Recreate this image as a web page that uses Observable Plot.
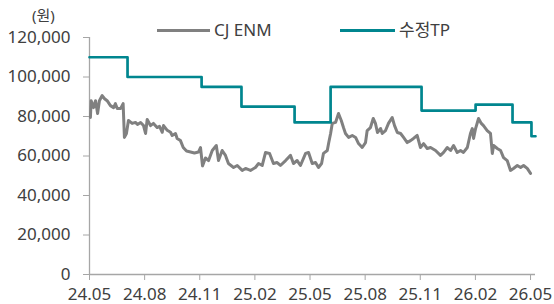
<!DOCTYPE html>
<html>
<head>
<meta charset="utf-8">
<script src="https://cdn.jsdelivr.net/npm/d3@7"></script>
<script src="https://cdn.jsdelivr.net/npm/@observablehq/plot@0.6"></script>
<style>
  html, body { margin: 0; padding: 0; background: #fff; }
  #wrap { position: relative; width: 554px; height: 304px; font-family: "Noto Sans", "Noto Sans CJK KR", sans-serif; color: #404040; }
  .lg { position: absolute; top: 17px; font-size: 17px; line-height: 26px; display: flex; align-items: center; }
  .lg i { display: inline-block; height: 3px; margin-right: 4px; }
  #unit { position: absolute; left: 32px; top: 8px; font-size: 15px; line-height: 15px; }
  svg { display: block; }
</style>
</head>
<body>
<div id="wrap">
  <div id="unit">(원)</div>
  <div class="lg" style="left:157px"><i style="width:53px;background:#808080"></i>CJ ENM</div>
  <div class="lg" style="left:340px"><i style="width:55px;background:#00868f"></i>수정TP</div>
</div>
<script>
// x = months since 2024.05
const tickMonths = [0, 3, 6, 9, 12, 15, 18, 21, 24];
const tickLabels = ["24.05", "24.08", "24.11", "25.02", "25.05", "25.08", "25.11", "26.02", "26.05"];
const yTicks = [0, 20000, 40000, 60000, 80000, 100000, 120000];

// CJ ENM share price (원)
const priceMonths = [0.05,0.09,0.22,0.33,0.44,0.54,0.69,0.82,0.96,1.14,1.31,1.41,1.51,1.69,1.83,1.90,2.01,2.12,2.32,2.50,2.61,2.78,2.94,3.05,3.14,3.32,3.48,3.68,3.81,3.96,4.03,4.23,4.41,4.50,4.68,4.77,4.95,5.10,5.28,5.50,5.71,5.93,6.04,6.15,6.31,6.48,6.68,6.90,7.02,7.22,7.40,7.56,7.84,8.04,8.31,8.49,8.76,9.03,9.20,9.40,9.58,9.80,10.01,10.21,10.39,10.67,10.94,11.10,11.30,11.48,11.76,11.92,12.12,12.30,12.46,12.63,12.73,12.94,13.01,13.12,13.21,13.39,13.55,13.70,13.82,13.93,14.10,14.30,14.48,14.64,14.84,15.02,15.11,15.29,15.44,15.56,15.67,15.84,15.93,16.11,16.27,16.47,16.60,16.75,16.93,17.09,17.29,17.47,17.63,17.83,18.01,18.18,18.38,18.56,18.83,19.10,19.27,19.47,19.65,19.81,20.01,20.19,20.35,20.56,20.73,20.83,20.90,21.01,21.17,21.32,21.44,21.64,21.82,21.92,21.99,22.19,22.37,22.53,22.73,22.91,23.07,23.28,23.46,23.62,23.82,24.00];
const priceValues = [79500,88000,84500,88000,81500,88000,90600,89000,88000,85500,84500,86500,84000,84000,86500,69400,71400,78000,76500,77000,76000,77000,75400,71400,78500,75400,76500,74400,75000,72000,75400,73000,72000,70400,71400,68900,67800,64300,62500,62000,61500,62000,64300,55000,59000,57700,62800,65300,57700,62800,60300,56200,54200,55200,52700,53700,52700,54200,56200,55200,61800,61300,56200,56700,55200,57700,60300,56200,57700,55200,61300,61800,56200,56700,54200,56200,61300,62800,66300,71400,76500,77000,81500,78000,74400,71400,69400,70400,69400,66300,64300,66800,72900,74400,79000,76500,71900,73900,71400,72900,76500,79500,75400,71900,71400,69400,66800,67800,68900,70400,64300,66300,63800,64300,62800,60300,61800,64300,62800,65300,61800,62800,61800,64300,71400,73900,68900,73900,79000,76500,75400,72900,71400,61300,65300,63800,62800,59200,57700,52700,53700,55200,54200,55200,53700,51200];

// 수정TP (target price, 원)
const tpMonths = [0, 2.07, 6.10, 8.27, 11.16, 13.12, 18.07, 21.01, 23.02, 24.05, 24.27];
const tpValues = [110000, 100000, 95000, 85000, 77000, 95000, 83000, 86000, 77000, 70000, 70000];

const price = priceMonths.map((m, i) => ({m, v: priceValues[i]}));
const tp = tpMonths.map((m, i) => ({m, v: tpValues[i]}));

const axisColor = "#a6a6a6";
const chart = Plot.plot({
  width: 554,
  height: 304,
  marginLeft: 89,
  marginRight: 19,
  marginTop: 37,
  marginBottom: 30,
  style: {fontFamily: '"Noto Sans", "Noto Sans CJK KR", sans-serif', fontSize: "17px", color: "#404040", background: "transparent"},
  x: {domain: [0, 24.27], ticks: tickMonths, tickFormat: (d) => tickLabels[tickMonths.indexOf(d)], label: null, tickSize: 6, tickPadding: 7},
  y: {domain: [0, 120000], ticks: yTicks, tickFormat: d3.format(","), label: null, tickSize: 6, tickPadding: 13},
  marks: [
    Plot.axisX({ticks: tickMonths, tickFormat: (d) => tickLabels[tickMonths.indexOf(d)], stroke: axisColor, tickSize: 6, tickPadding: 7, label: null, fill: "#404040"}),
    Plot.axisY({ticks: yTicks, tickFormat: d3.format(","), stroke: axisColor, tickSize: 6, tickPadding: 13, label: null, fill: "#404040"}),
    Plot.ruleY([0], {stroke: axisColor, strokeWidth: 1.3}),
    Plot.ruleX([0], {y1: 0, y2: 120000, stroke: axisColor, strokeWidth: 1.3}),
    Plot.line(price, {x: "m", y: "v", stroke: "#808080", strokeWidth: 3, strokeLinejoin: "round"}),
    Plot.line(tp, {x: "m", y: "v", stroke: "#00868f", strokeWidth: 2.7, curve: "step-after"})
  ]
});
chart.style.position = "absolute";
chart.style.left = "0";
chart.style.top = "0";
document.getElementById("wrap").prepend(chart);
</script>
</body>
</html>
